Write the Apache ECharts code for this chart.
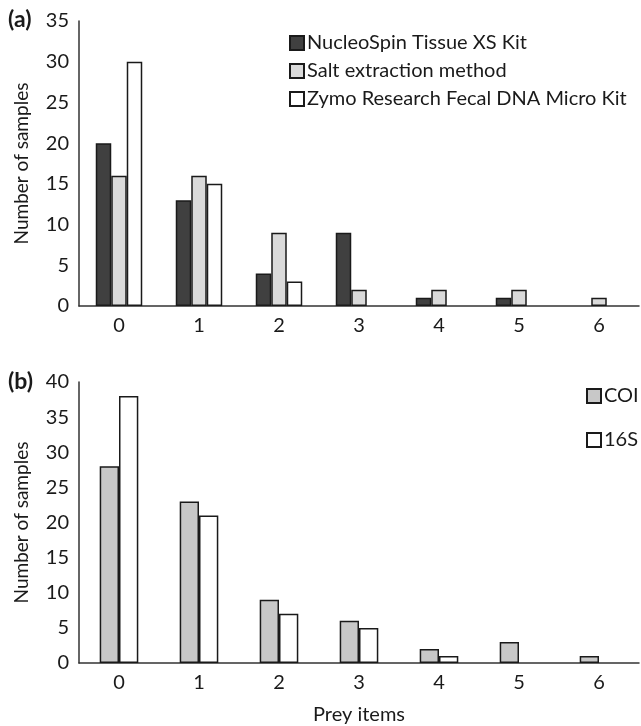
<!DOCTYPE html>
<html>
<head>
<meta charset="utf-8">
<script src="https://cdn.jsdelivr.net/npm/echarts@6/dist/echarts.min.js"></script>
<style>
  html, body { margin: 0; padding: 0; background: #fff; }
  #chart { width: 641px; height: 726px; }
</style>
</head>
<body>
<div id="chart"></div>
<script>
// prey items on the x axis
const preyItems = ['0', '1', '2', '3', '4', '5', '6'];

// panel (a): extraction methods
const nucleoSpin = [20, 13, 4, 9, 1, 1, 0];
const saltExtraction = [16, 16, 9, 2, 2, 2, 1];
const zymoKit = [30, 15, 3, 0, 0, 0, 0];

// panel (b): markers
const coi = [28, 23, 9, 6, 2, 3, 1];
const s16 = [38, 21, 7, 5, 1, 0, 0];

const font = 'Lato, "Open Sans", sans-serif';
const txt = '#1a1a1a';
const edge = '#1a1a1a';

function barSeries(name, data, color, idx, width, gap) {
  return {
    name: name,
    type: 'bar',
    xAxisIndex: idx,
    yAxisIndex: idx,
    // zero counts: no outline, so nothing shows (as in the figure)
    data: data.map(v => v === 0 ? { value: 0, itemStyle: { borderWidth: 0 } } : v),
    barWidth: width,
    barGap: '0%',
    barCategoryGap: gap,
    itemStyle: { color: color, borderColor: edge, borderWidth: 1.5 },
    emphasis: { disabled: true }
  };
}

function xAx(idx, withName) {
  return {
    type: 'category',
    gridIndex: idx,
    data: preyItems,
    axisLine: { lineStyle: { color: '#333', width: 1.5 } },
    axisTick: { show: false },
    axisLabel: { color: txt, fontSize: 20, fontFamily: font, margin: 10 },
    name: withName ? 'Prey items' : '',
    nameLocation: 'middle',
    nameGap: 42,
    nameTextStyle: { color: txt, fontSize: 20, fontFamily: font }
  };
}

function yAx(idx, max) {
  return {
    type: 'value',
    gridIndex: idx,
    min: 0,
    max: max,
    interval: 5,
    axisLine: { show: true, lineStyle: { color: '#333', width: 1.5 } },
    axisTick: { show: false },
    splitLine: { show: false },
    axisLabel: { color: txt, fontSize: 20, fontFamily: font, margin: 10 },
    name: 'Number of samples',
    nameLocation: 'middle',
    nameGap: 48,
    nameTextStyle: { color: txt, fontSize: 19, fontFamily: font }
  };
}

function legendOpt(names, left, top, gap) {
  return {
    data: names,
    orient: 'vertical',
    left: left,
    top: top,
    itemWidth: 14,
    itemHeight: 14,
    itemGap: gap,
    icon: 'rect',
    textStyle: { color: txt, fontSize: 20, fontFamily: font, padding: [0, 0, 0, -2] }
  };
}

function panelTag(text, top) {
  return {
    text: text,
    left: 8,
    top: top,
    padding: 0,
    textStyle: { color: txt, fontSize: 23, fontWeight: 'bold', fontFamily: font }
  };
}

const chart = echarts.init(document.getElementById('chart'), null, { renderer: 'canvas' });
chart.setOption({
  animation: false,
  backgroundColor: '#fff',
  title: [panelTag('(a)', 8), panelTag('(b)', 370)],
  grid: [
    { left: 79, top: 21, width: 560, height: 285 },
    { left: 79, top: 382, width: 560, height: 284 }
  ],
  xAxis: [xAx(0, false), xAx(1, true)],
  yAxis: [yAx(0, 35), yAx(1, 40)],
  legend: [
    legendOpt(['NucleoSpin Tissue XS Kit', 'Salt extraction method', 'Zymo Research Fecal DNA Micro Kit'], 284, 28, 8),
    legendOpt(['COI', '16S'], 581, 381, 24)
  ],
  series: [
    barSeries('NucleoSpin Tissue XS Kit', nucleoSpin, '#404040', 0, 15.5, '41%'),
    barSeries('Salt extraction method', saltExtraction, '#dadada', 0, 15.5, '41%'),
    barSeries('Zymo Research Fecal DNA Micro Kit', zymoKit, '#ffffff', 0, 15.5, '41%'),
    barSeries('COI', coi, '#c8c8c8', 1, 19.3, '51%'),
    barSeries('16S', s16, '#ffffff', 1, 19.3, '51%')
  ]
});
</script>
</body>
</html>
